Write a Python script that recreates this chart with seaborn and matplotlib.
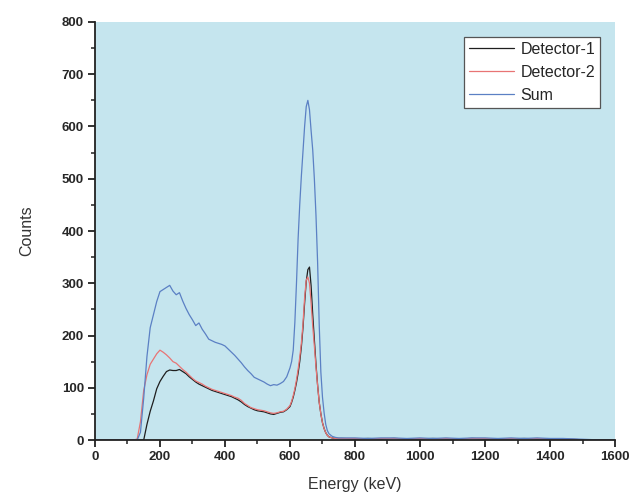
import numpy as np
import pandas as pd
import matplotlib
matplotlib.use("Agg")
import matplotlib.pyplot as plt
from matplotlib.ticker import MultipleLocator
import seaborn as sns

# ---- data ----
energy_low = [0, 50, 100, 110, 120, 130, 140, 150, 160, 170, 180, 190, 200, 210, 220, 230, 240,
              250, 260, 270, 280, 290, 300, 310, 320, 330, 340, 350, 360, 370, 380, 390, 400,
              410, 420, 430, 440, 450, 460, 470, 480, 490, 500, 510, 520, 530, 540, 550, 560,
              570, 580, 590]
energy_peak = [600, 605, 610, 615, 620, 625, 630, 635, 640, 645, 650, 655, 660, 665, 670, 675,
               680, 685, 690, 695, 700, 705, 710, 715, 720]
energy_tail = [730, 740, 750, 760, 800, 840, 880, 920, 960, 1000, 1040, 1080, 1120, 1160, 1200,
               1240, 1280, 1320, 1360, 1400, 1440, 1480, 1520, 1560, 1600]

det1_low = [0, 0, 0, 0, 0, 0, 0, 0, 30, 55, 75, 98, 112, 122, 131, 134, 133,
            133, 135, 131, 127, 121, 116, 111, 107, 104, 101, 98, 95, 93, 91, 89, 87,
            85, 83, 80, 77, 73, 68, 64, 61, 58, 56, 55, 54, 52, 50, 49, 51,
            53, 54, 58]
det1_peak = [64, 72, 82, 95, 110, 128, 150, 178, 215, 262, 303, 326, 331, 295, 240, 192,
             145, 105, 72, 50, 33, 22, 14, 9, 6]
det1_tail = [4, 3, 3, 3, 2, 3, 2, 3, 2, 2, 3, 2, 2, 3, 2, 2, 2, 3, 2, 2, 2, 1, 0, 0, 0]

det2_low = [0, 0, 0, 0, 0, 2, 35, 95, 125, 145, 155, 165, 172, 168, 163, 157, 150,
            147, 141, 135, 130, 124, 118, 113, 110, 107, 103, 100, 97, 95, 93, 91, 89,
            87, 85, 82, 80, 76, 70, 66, 62, 60, 58, 57, 56, 54, 52, 51, 52,
            54, 55, 59]
det2_peak = [66, 74, 85, 98, 115, 135, 158, 185, 222, 272, 306, 312, 300, 262, 218, 180,
             140, 104, 72, 50, 33, 22, 14, 9, 6]
det2_tail = [4, 3, 3, 3, 3, 2, 3, 3, 2, 3, 2, 3, 2, 3, 3, 2, 3, 2, 3, 2, 2, 1, 0, 0, 0]

sum_low = [0, 0, 0, 0, 0, 0, 15, 80, 160, 215, 240, 265, 284, 288, 292, 296, 285,
           278, 282, 266, 252, 240, 230, 219, 224, 212, 203, 193, 190, 187, 185, 183, 180,
           174, 168, 162, 155, 148, 140, 133, 127, 120, 117, 114, 111, 107, 104, 106, 105,
           108, 112, 121]
sum_peak = [138, 150, 172, 225, 300, 385, 450, 505, 552, 600, 638, 650, 632, 592, 555, 500,
            430, 340, 220, 130, 82, 52, 30, 18, 12]
sum_tail = [7, 5, 4, 4, 4, 3, 4, 4, 3, 4, 3, 4, 3, 4, 4, 3, 4, 3, 4, 3, 3, 2, 1, 0, 0]

series_names = ["Detector-1", "Detector-2", "Sum"]

energy = energy_low + energy_peak + energy_tail
frames = []
for name, lo, pk, tl in [("Detector-1", det1_low, det1_peak, det1_tail),
                         ("Detector-2", det2_low, det2_peak, det2_tail),
                         ("Sum", sum_low, sum_peak, sum_tail)]:
    frames.append(pd.DataFrame({"Energy": energy, "Counts": lo + pk + tl, "Series": name}))
df = pd.concat(frames, ignore_index=True)

# ---- styling ----
sns.set_theme(style="ticks")
plt.rcParams["font.family"] = ["Liberation Sans", "DejaVu Sans"]

fig = plt.figure(figsize=(6.33, 5.03), dpi=100)
ax = fig.add_axes([0.150, 0.1252, 0.8216, 0.8311])
ax.set_facecolor("#c5e5ee")

palette = {"Detector-1": "#1e1e1e", "Detector-2": "#e87474", "Sum": "#5b80c4"}
sns.lineplot(data=df, x="Energy", y="Counts", hue="Series", hue_order=series_names,
             palette=palette, linewidth=0.9, ax=ax, estimator=None, sort=False)

ax.set_xlim(0, 1600)
ax.set_ylim(0, 800)
ax.xaxis.set_major_locator(MultipleLocator(200))
ax.xaxis.set_minor_locator(MultipleLocator(100))
ax.yaxis.set_major_locator(MultipleLocator(100))
ax.yaxis.set_minor_locator(MultipleLocator(50))

for s in ["top", "right"]:
    ax.spines[s].set_visible(False)
for s in ["left", "bottom"]:
    ax.spines[s].set_linewidth(1.3)
    ax.spines[s].set_color("#222222")

ax.tick_params(which="major", direction="out", length=5, width=1.3, color="#222222",
               labelsize=9.5, pad=3)
ax.tick_params(which="minor", direction="out", length=3, width=1.1, color="#222222")
for lab in ax.get_xticklabels() + ax.get_yticklabels():
    lab.set_fontweight("bold")

ax.set_xlabel("Energy (keV)", fontsize=11.5, color="#333333", labelpad=10)
ax.set_ylabel("Counts", fontsize=11.5, color="#333333", labelpad=20)

leg = ax.legend(loc="upper right", bbox_to_anchor=(0.971, 0.964), borderaxespad=0,
                fontsize=11.5, handlelength=2.8, labelspacing=0.5, handletextpad=0.4,
                borderpad=0.3, fancybox=False, framealpha=1, edgecolor="#555555")
leg.get_frame().set_linewidth(0.9)

fig.savefig("out.png", dpi=100)
